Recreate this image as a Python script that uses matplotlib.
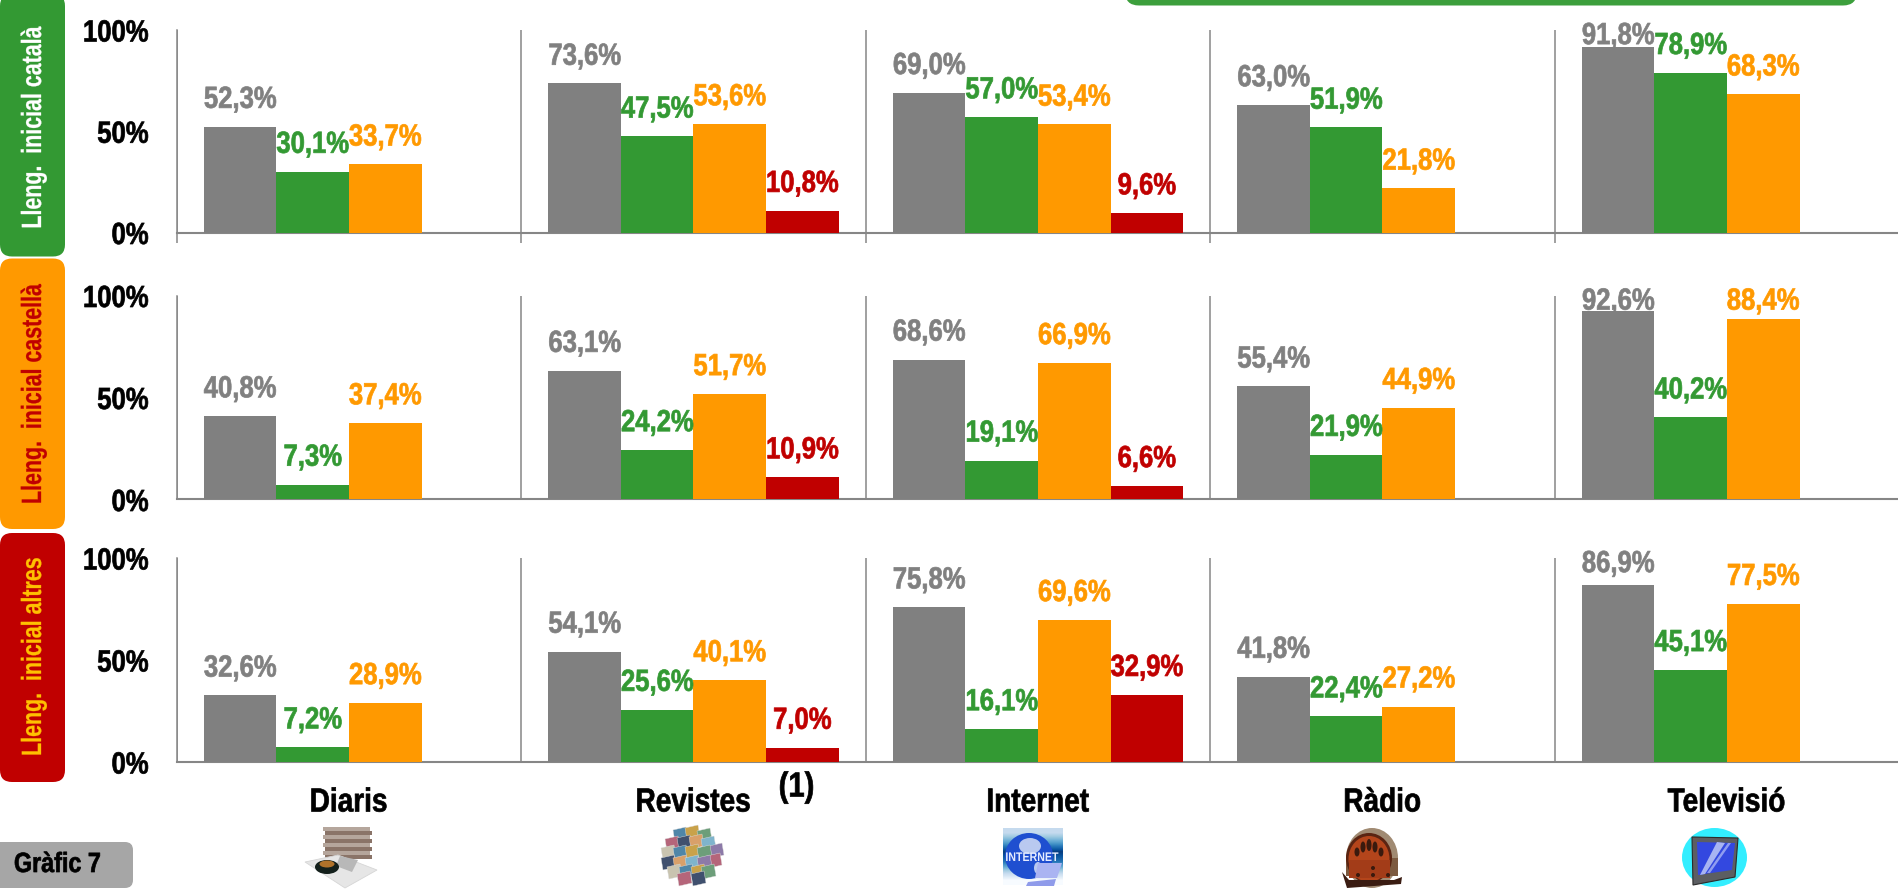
import matplotlib
matplotlib.use("Agg")
import matplotlib.pyplot as plt
from matplotlib.patches import Ellipse, FancyBboxPatch, Polygon, Rectangle
from matplotlib.patheffects import AbstractPathEffect
from matplotlib.transforms import Affine2D, blended_transform_factory

W, H = 1899, 890

CATEGORIES = ["Diaris", "Revistes", "Internet", "Ràdio", "Televisió"]
ROW_LABELS = ["Lleng.  inicial català", "Lleng.  inicial castellà", "Lleng.  inicial altres"]

# gray / green / orange / red per row, None = no bar
GRAY_1 = [52.3, 73.6, 69.0, 63.0, 91.8]
GREEN_1 = [30.1, 47.5, 57.0, 51.9, 78.9]
ORANGE_1 = [33.7, 53.6, 53.4, 21.8, 68.3]
RED_1 = [None, 10.8, 9.6, None, None]

GRAY_2 = [40.8, 63.1, 68.6, 55.4, 92.6]
GREEN_2 = [7.3, 24.2, 19.1, 21.9, 40.2]
ORANGE_2 = [37.4, 51.7, 66.9, 44.9, 88.4]
RED_2 = [None, 10.9, 6.6, None, None]

GRAY_3 = [32.6, 54.1, 75.8, 41.8, 86.9]
GREEN_3 = [7.2, 25.6, 16.1, 22.4, 45.1]
ORANGE_3 = [28.9, 40.1, 69.6, 27.2, 77.5]
RED_3 = [None, 7.0, 32.9, None, None]

ROWS = [
    [GRAY_1, GREEN_1, ORANGE_1, RED_1],
    [GRAY_2, GREEN_2, ORANGE_2, RED_2],
    [GRAY_3, GREEN_3, ORANGE_3, RED_3],
]

C_GRAY = "#808080"
C_GREEN = "#339933"
C_ORANGE = "#ff9900"
C_RED = "#c00000"
C_AXIS = "#868686"
SERIES_COLORS = [C_GRAY, C_GREEN, C_ORANGE, C_RED]

BOLD = ["Liberation Sans", "DejaVu Sans"]
NARROW_X = 0.84

# axes boxes in pixels: top (100%), bottom (0%)
ROW_BOXES = [(30, 232.5), (295.5, 499.5), (558, 762)]
AX_LEFT = 176.5
CAT_W = 345.3
BAR_W = 72.7 / CAT_W
GROUP_START = 27.5 / CAT_W


class Squeeze(AbstractPathEffect):
    """No narrow bold font is installed, so squeeze the glyph outlines of a
    normal text when it gets drawn. The thin stroke puts back the stem weight
    the squeeze takes away."""

    def __init__(self, sx=1.0, sy=1.0, right=False, weight=0.5):
        super().__init__()
        self.sx, self.sy, self.right, self.weight = sx, sy, right, weight

    def draw_path(self, renderer, gc, tpath, affine, rgbFace=None):
        box = tpath.get_extents(affine)
        cx = box.x1 if self.right else (box.x0 + box.x1) / 2
        cy = (box.y0 + box.y1) / 2
        t = affine + Affine2D().translate(-cx, -cy).scale(self.sx, self.sy).translate(cx, cy)
        gc0 = renderer.new_gc()
        gc0.copy_properties(gc)
        gc0.set_linewidth(self.weight)
        gc0.set_foreground(rgbFace)
        renderer.draw_path(gc0, tpath, t, rgbFace)
        gc0.restore()


def make_axes(fig, top, bottom):
    ax = fig.add_axes([AX_LEFT / W, 1 - bottom / H, (W - AX_LEFT) / W, (bottom - top) / H])
    ax.set_xlim(0, (W - AX_LEFT) / CAT_W)
    ax.set_ylim(0, 100)
    ax.patch.set_alpha(0)
    for side in ["top", "right"]:
        ax.spines[side].set_visible(False)
    ax.spines["left"].set_color(C_AXIS)
    ax.spines["left"].set_linewidth(1.1)
    ax.spines["bottom"].set_color(C_AXIS)
    ax.spines["bottom"].set_linewidth(1.5)
    ax.set_yticks([0, 50, 100])
    ax.set_yticklabels(["0%", "50%", "100%"], fontweight="bold", fontsize=22)
    for label in ax.get_yticklabels():
        label.set_path_effects([Squeeze(sx=NARROW_X, right=True)])
    ax.tick_params(axis="y", length=0, pad=20)
    ax.set_xticks(range(0, 6))
    ax.set_xticklabels([])
    ax.grid(axis="x", color=C_AXIS, linewidth=1.1)
    ax.set_axisbelow(True)
    return ax


def draw_row(ax, row):
    for s, values in enumerate(row):
        for i, v in enumerate(values):
            if v is None:
                continue
            x = i + GROUP_START + s * BAR_W
            ax.bar(x, v, width=BAR_W, align="edge", color=SERIES_COLORS[s], zorder=3)
            # labels get pushed down against the top of the plot area
            ax.text(x + BAR_W / 2, min(v + 13.2, 97), f"{v:.1f}%".replace(".", ","),
                    ha="center", va="center", color=SERIES_COLORS[s], fontweight="bold",
                    fontsize=22, zorder=4, path_effects=[Squeeze(sx=NARROW_X)])


def rbox(ov, x0, y0, x1, y1, color, r=12, **kw):
    ov.add_patch(FancyBboxPatch((x0 + r, y0 + r), x1 - x0 - 2 * r, y1 - y0 - 2 * r,
                                boxstyle=f"round,pad={r},rounding_size={r}",
                                fc=color, ec="none", **kw))


def icon_papers(ov):
    for k, y in enumerate(range(827, 856, 4)):
        ov.add_patch(Rectangle((323 + (k % 2) * 2, y), 47, 4, fc="#8a7468" if k % 2 else "#b5a69c", ec="none"))
    ov.add_patch(Polygon([(305, 862), (338, 855), (377, 870), (345, 888)], fc="#e6e6e6", ec="#d6d6d6", lw=0.6))
    ov.add_patch(Polygon([(340, 856), (358, 860), (352, 872), (336, 866)], fc="#b8b8b8", ec="none"))
    ov.add_patch(Ellipse((327, 867), 24, 14, fc="#14201c", ec="none"))
    ov.add_patch(Ellipse((327, 864), 15, 7, fc="#b0722a", ec="none"))


def icon_magazines(ov):
    colors = ["#4f86a8", "#c9a24a", "#6d9e7a", "#b5657a", "#40506e", "#d9a06a", "#7fb4cc", "#8d7aa8", "#c9c4b0"]
    layout = [(680, 834), (692, 832), (704, 835), (672, 843), (684, 842), (696, 841), (708, 843), (716, 850),
              (668, 852), (680, 852), (692, 851), (704, 852), (714, 860), (668, 862), (680, 862), (692, 862),
              (704, 862), (674, 871), (686, 871), (698, 871), (708, 871), (684, 878), (698, 878)]
    for k, (x, y) in enumerate(layout):
        ov.add_patch(Polygon([(x - 7, y - 4), (x + 6, y - 7), (x + 8, y + 5), (x - 5, y + 8)],
                             fc=colors[k % len(colors)], ec="#dcdcdc", lw=0.3))


def icon_globe(ov):
    shades = [[0.25], [0.55], [0.95], [0.75], [0.35], [0.0]]
    ov.imshow(shades, extent=(1003, 1063, 885, 828), cmap="Blues", vmin=0, vmax=1.0,
              aspect="auto", zorder=2, interpolation="bilinear")
    ov.add_patch(Ellipse((1029, 856), 48, 46, fc="#1f4fd0", ec="none", zorder=3))
    ov.add_patch(Ellipse((1030, 846), 22, 16, fc="#b9c9f0", ec="none", zorder=3))
    ov.add_patch(Ellipse((1038, 868), 8, 12, fc="#b9c9f0", ec="none", zorder=3))
    ov.text(1032, 858, "INTERNET", color="#e6ecff", fontsize=9, fontweight="bold",
            ha="center", va="center", zorder=4, path_effects=[Squeeze(sx=0.85, weight=0)])
    ov.add_patch(Polygon([(1038, 863), (1062, 863), (1057, 878), (1035, 878)], fc="#aab4f2", ec="none", zorder=4))
    ov.add_patch(Polygon([(1028, 882), (1056, 879), (1054, 886), (1026, 886)], fc="#8f9bea", ec="none", zorder=4))


def icon_radio(ov):
    ov.add_patch(Ellipse((1372, 858), 52, 60, fc="#a08a72", ec="none"))
    ov.add_patch(Rectangle((1346, 858), 52, 18, fc="#7c5a40", ec="none"))
    ov.add_patch(Ellipse((1369, 858), 46, 50, fc="#5a2412", ec="none"))
    ov.add_patch(Ellipse((1369, 859), 41, 46, fc="#b4451b", ec="none"))
    ov.add_patch(Rectangle((1349, 860), 41, 18, fc="#a33c18", ec="none"))
    for dx, dy, h in [(-12, 2, 9), (-6, -3, 11), (0, -5, 12), (6, -3, 11), (12, 2, 9)]:
        ov.add_patch(Ellipse((1369 + dx, 850 + dy), 5, h, fc="#3a1a0e", ec="none"))
    for x, y in [(1358, 875), (1373, 868), (1373, 875), (1388, 875)]:
        ov.add_patch(Ellipse((x, y), 4, 4, fc="#3a1a0e", ec="none"))
    ov.add_patch(Polygon([(1342, 872), (1349, 880), (1394, 880), (1402, 877), (1401, 884), (1347, 888)],
                         fc="#3a1c12", ec="none"))


def icon_tv(ov):
    ov.add_patch(Ellipse((1714.5, 857.5), 65, 59, fc="#33eeff", ec="none"))
    ov.add_patch(Polygon([(1692, 837), (1738, 838), (1735, 877), (1693, 885)], fc="#5c5e62", ec="#2b2b2b", lw=0.8))
    ov.add_patch(Polygon([(1697, 842), (1735, 843), (1732, 870), (1698, 875)], fc="#3348e0", ec="none"))
    ov.add_patch(Polygon([(1717, 842), (1725, 843), (1705, 874), (1700, 875)], fc="#a8b4f2", ec="none"))
    ov.add_patch(Polygon([(1728, 843), (1731, 843), (1710, 873), (1707, 873)], fc="#8f9cf0", ec="none"))


plt.rcParams["font.family"] = BOLD
fig = plt.figure(figsize=(W / 100, H / 100), dpi=100, facecolor="white")

axes = []
for (top, bottom), row in zip(ROW_BOXES, ROWS):
    ax = make_axes(fig, top, bottom)
    draw_row(ax, row)
    axes.append(ax)

# only the top panel has tick marks under the baseline
axes[0].tick_params(axis="x", length=7.2, width=1.1, color=C_AXIS)
for ax in axes[1:]:
    ax.tick_params(axis="x", length=0)

bottom_ax = axes[-1]
cat_trans = blended_transform_factory(bottom_ax.transData, fig.transFigure)
for i, name in enumerate(CATEGORIES):
    bottom_ax.text(i + 0.5, 1 - 803 / H, name, transform=cat_trans, ha="center", va="center",
                   fontweight="bold", fontsize=24, clip_on=False,
                   path_effects=[Squeeze(sx=NARROW_X)])
bottom_ax.text(1.8, 1 - 787 / H, "(1)", transform=cat_trans, ha="center", va="center",
               fontweight="bold", fontsize=25, clip_on=False, path_effects=[Squeeze(sx=NARROW_X)])

# pixel overlay for the boxes and the small pictures
ov = fig.add_axes([0, 0, 1, 1], zorder=-1)
ov.set_xlim(0, W)
ov.set_ylim(H, 0)
ov.axis("off")

rbox(ov, 0, -6, 65, 256.5, C_GREEN)
rbox(ov, 0, 258.5, 65, 529, C_ORANGE)
rbox(ov, 0, 533, 65, 782, C_RED)
rbox(ov, 1125, -30, 1857, 5.5, "#3c9f3c", r=14)
rbox(ov, -10, 842, 133, 888, "#a6a6a6", r=8)

side_fx = [Squeeze(sy=0.77, weight=0.2)]
ov.text(34, 128, ROW_LABELS[0], rotation=90, color="white", ha="center", va="center",
        fontweight="bold", fontsize=20, path_effects=side_fx)
ov.text(34, 394.5, ROW_LABELS[1], rotation=90, color=C_RED, ha="center", va="center",
        fontweight="bold", fontsize=20, path_effects=side_fx)
ov.text(34, 657, ROW_LABELS[2], rotation=90, color="#ffc000", ha="center", va="center",
        fontweight="bold", fontsize=20, path_effects=side_fx)
ov.text(57.5, 865, "Gràfic 7", color="black", ha="center", va="center",
        fontweight="bold", fontsize=20, path_effects=[Squeeze(sx=NARROW_X)])

icon_papers(ov)
icon_magazines(ov)
icon_globe(ov)
icon_radio(ov)
icon_tv(ov)
ov.set_xlim(0, W)
ov.set_ylim(H, 0)

fig.savefig("out.png", dpi=100)
